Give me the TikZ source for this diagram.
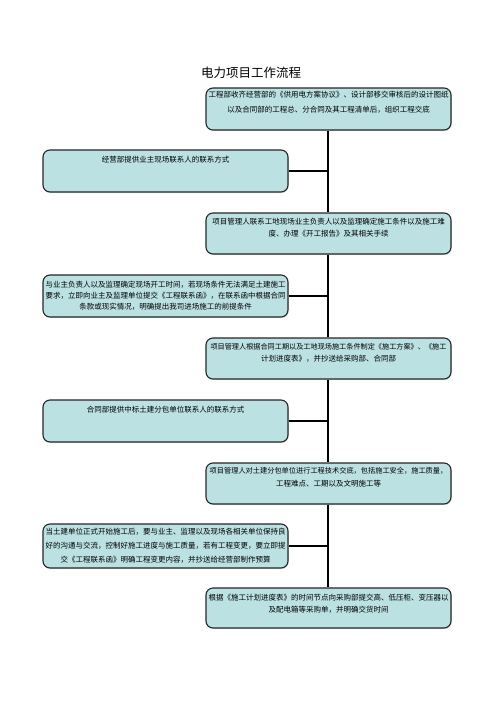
\documentclass[tikz,border=0pt]{standalone}
\usepackage{fontspec}
\newfontfamily\cjk{Noto Sans CJK SC}
\usetikzlibrary{shadows}
\definecolor{boxfill}{RGB}{187,225,227}
\begin{document}
\begin{tikzpicture}[x=1pt,y=-1pt,
  box/.style={draw=black!85, line width=1.1pt, rounded corners=7pt, fill=boxfill,
    minimum width=245pt, inner sep=0pt,
    drop shadow={opacity=0.2, shadow xshift=0.8pt, shadow yshift=-1.2pt}},
  txt/.style={font=\cjk\fontsize{7.5}{#1}\selectfont, align=center, inner sep=0pt},
  spine/.style={line width=1.8pt, black},
  link/.style={line width=1.3pt, black}]
\useasboundingbox (0,0) rectangle (496,702);
\fill[white] (0,0) rectangle (496,702);

\node[font=\cjk\fontsize{12.5}{14}\selectfont, inner sep=0pt] (title) at (251,73) {电力项目工作流程};

% right column
\node[box, minimum height=42pt] (b1) at (328.5,109) {};
\node[txt=15] (t1) at (328.5,102.5) {工程部收齐经营部的《供用电方案协议》、设计部移交审核后的设计图纸\\以及合同部的工程总、分合同及其工程清单后，组织工程交底};

\node[box, minimum height=41pt] (b3) at (328.5,233.5) {};
\node[txt=12] (t3) at (328.5,228) {项目管理人联系工地现场业主负责人以及监理确定施工条件以及施工难\\度、办理《开工报告》及其相关手续};

\node[box, minimum height=41pt] (b5) at (328.5,358.5) {};
\node[txt=12] (t5) at (328.5,353) {{\fontsize{7.15}{12}\selectfont 项目管理人根据合同工期以及工地现场施工条件制定《施工方案》、《施工}\\计划进度表》，并抄送给采购部、合同部};

\node[box, minimum height=41pt] (b7) at (328.5,483.5) {};
\node[txt=13] (t7) at (328.5,477.5) {{\fontsize{7.2}{13}\selectfont 项目管理人对土建分包单位进行工程技术交底，包括施工安全，施工质量，}\\工程难点、工期以及文明施工等};

\node[box, minimum height=40pt] (b9) at (328.5,608) {};
\node[txt=12] (t9) at (328.5,604) {根据《施工计划进度表》的时间节点向采购部提交高、低压柜、变压器以\\及配电箱等采购单，并明确交货时间};

% left column
\node[box, minimum height=42pt] (b2) at (165.5,171) {};
\node[txt=12] (t2) at (165.5,160) {经营部提供业主现场联系人的联系方式};

\node[box, minimum height=42pt] (b4) at (165.5,296) {};
\node[txt=11] (t4) at (165.5,296) {与业主负责人以及监理确定现场开工时间，若现场条件无法满足土建施工\\要求，立即向业主及监理单位提交《工程联系函》，在联系函中根据合同\\条款或现实情况，明确提出我司进场施工的前提条件};

\node[box, minimum height=42pt] (b6) at (165.5,421) {};
\node[txt=12] (t6) at (165.5,410) {合同部提供中标土建分包单位联系人的联系方式};

\node[box, minimum height=44pt] (b8) at (165.5,546) {};
\node[txt=14] (t8) at (165.5,546) {当土建单位正式开始施工后，要与业主、监理以及现场各相关单位保持良\\好的沟通与交流，控制好施工进度与施工质量，若有工程变更，要立即提\\交《工程联系函》明确工程变更内容，并抄送给经营部制作预算};

% connectors
\coordinate (sp) at (328,0);
\draw[spine] (b1.south -| sp) -- (b3.north -| sp);
\draw[spine] (b3.south -| sp) -- (b5.north -| sp);
\draw[spine] (b5.south -| sp) -- (b7.north -| sp);
\draw[spine] (b7.south -| sp) -- (b9.north -| sp);
\draw[link] (b2.east) -- (b2.east -| sp);
\draw[link] (b4.east) -- (b4.east -| sp);
\draw[link] (b6.east) -- (b6.east -| sp);
\draw[link] (b8.east) -- (b8.east -| sp);
\end{tikzpicture}
\end{document}
